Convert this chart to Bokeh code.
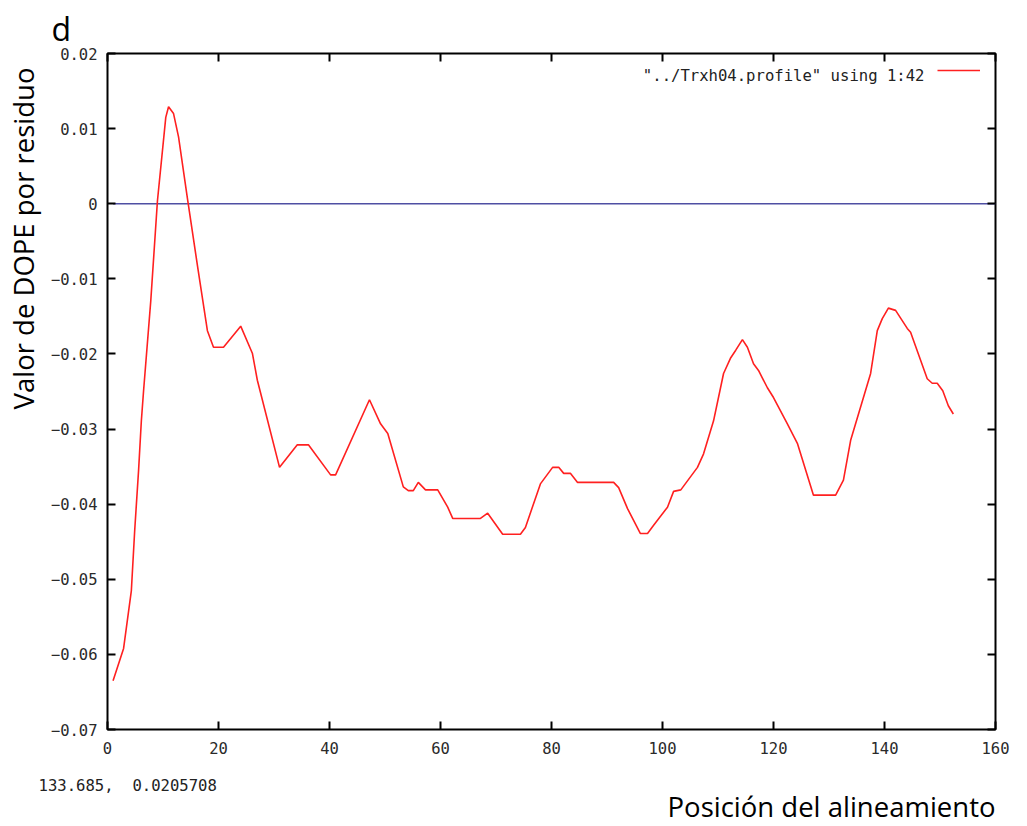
from bokeh.plotting import figure
from bokeh.models import (Range1d, LinearAxis, FixedTicker, CustomJSTickFormatter, Label,
                          Legend, LegendItem, Title)
from bokeh.embed import file_html
from bokeh.resources import INLINE

# ---- data ----
pos = [1.0, 2.9, 4.3, 4.9, 5.6, 6.1, 6.5, 7.8, 9.0, 10.5, 11.0, 11.9, 12.8, 14.4, 16.2,
       18.0, 19.1, 20.9, 24.0, 26.1, 27.0, 31.0, 34.2, 36.2, 40.2, 41.1, 47.2, 49.2, 50.5,
       53.3, 54.2, 55.1, 56.0, 57.3, 59.5, 61.3, 62.2, 67.2, 68.5, 71.2, 74.4, 75.3, 78.0,
       80.2, 81.3, 82.2, 83.4, 84.7, 91.2, 92.1, 93.7, 96.0, 97.3, 98.4, 100.9, 102.0, 103.3,
       106.3, 107.4, 109.2, 111.0, 112.3, 113.2, 114.4, 115.3, 116.4, 117.3, 118.9, 120.0,
       122.5, 124.3, 127.2, 131.2, 132.6, 133.9, 137.5, 138.7, 139.6, 140.7, 142.0, 144.1,
       144.7, 147.7, 148.6, 149.5, 150.5, 151.5, 152.4]
dope = [-0.0635, -0.0592, -0.0515, -0.0435, -0.0355, -0.0289, -0.0249, -0.0129, 0.0004,
        0.0115, 0.0129, 0.0120, 0.0089, 0.0007, -0.0082, -0.0169, -0.0191, -0.0191, -0.0163,
        -0.0199, -0.0235, -0.0351, -0.0321, -0.0321, -0.0361, -0.0361, -0.0261, -0.0293,
        -0.0306, -0.0377, -0.0382, -0.0382, -0.0371, -0.0381, -0.0381, -0.0404, -0.0419,
        -0.0419, -0.0412, -0.0440, -0.0440, -0.0431, -0.0373, -0.0351, -0.0351, -0.0359,
        -0.0359, -0.0371, -0.0371, -0.0378, -0.0406, -0.0439, -0.0439, -0.0428, -0.0404,
        -0.0383, -0.0381, -0.0351, -0.0333, -0.0289, -0.0226, -0.0205, -0.0195, -0.0181,
        -0.0191, -0.0213, -0.0222, -0.0245, -0.0258, -0.0293, -0.0319, -0.0388, -0.0388,
        -0.0368, -0.0315, -0.0226, -0.0169, -0.0153, -0.0139, -0.0142, -0.0166, -0.0171,
        -0.0233, -0.0239, -0.0239, -0.0249, -0.0269, -0.0280]
zero_x = [1, 160]
zero_y = [0.0, 0.0]
x_ticks = [0, 20, 40, 60, 80, 100, 120, 140, 160]
y_ticks = [-0.07, -0.06, -0.05, -0.04, -0.03, -0.02, -0.01, 0.0, 0.01, 0.02]
legend_text = '"../Trxh04.profile" using 1:42'
panel_label = "d"
x_title = "Posición del alineamiento"
y_title = "Valor de DOPE por residuo"
status_text = "133.685,\u00a0 0.0205708"

MONO = "DejaVu Sans Mono"
SANS = "Open Sans"

W, H = 1020, 826
p = figure(width=W, height=H, output_backend="svg", toolbar_location=None,
           x_range=Range1d(0, 160), y_range=Range1d(-0.07, 0.02),
           min_border_left=107, min_border_right=W - 995, min_border_top=53,
           min_border_bottom=H - 729,
           x_axis_location=None, y_axis_location=None)
p.background_fill_color = "white"
p.border_fill_color = "white"
p.outline_line_color = "black"
p.outline_line_width = 2
p.xgrid.visible = False
p.ygrid.visible = False

fmt = CustomJSTickFormatter(
    code="return String(Math.round(tick*100)/100).replace('-', '\u2212');")
blank = CustomJSTickFormatter(code="return '';")

for loc, show, stand, ticks in [("below", True, 12, x_ticks), ("above", False, 0, x_ticks),
                                ("left", True, 10, y_ticks), ("right", False, 0, y_ticks)]:
    ax = LinearAxis(formatter=fmt if show else blank, ticker=FixedTicker(ticks=ticks))
    ax.axis_line_color = None
    ax.major_tick_in = 8
    ax.major_tick_out = 0
    ax.major_tick_line_width = 2
    ax.major_tick_line_color = "black"
    ax.minor_tick_line_color = None
    ax.major_label_text_font = MONO
    ax.major_label_text_font_size = "15.5px"
    ax.major_label_text_color = "#2a2a2a"
    ax.major_label_standoff = stand
    p.add_layout(ax, loc)

p.line(zero_x, zero_y, line_color="#4f4fa3", line_width=1.5)
red = p.line(pos, dope, line_color="#ff2020", line_width=1.6)

leg = Legend(items=[LegendItem(label=" ", renderers=[red])], location=(830, 649),
             glyph_width=43, glyph_height=20, label_height=20, label_width=0,
             padding=0, margin=0, spacing=0, label_standoff=0,
             label_text_font_size="1px", border_line_alpha=0, background_fill_alpha=0)
p.add_layout(leg)

p.add_layout(Label(x=817, y=654, x_units="screen", y_units="screen", text=legend_text,
                   text_align="right", text_baseline="alphabetic", text_font=MONO,
                   text_font_size="15.6px", text_color="#222222"))

# texts outside the frame, as titles in the side panels
p.add_layout(Title(text=panel_label, align="left", offset=-56, standoff=8,
                   text_font=SANS, text_font_size="32px", text_font_style="normal",
                   text_color="black"), "above")
p.add_layout(Title(text=y_title, align="right", offset=14, standoff=7, vertical_align="top",
                   text_font=SANS, text_font_size="27.5px", text_font_style="normal",
                   text_color="black"), "left")
p.add_layout(Title(text=status_text, align="left", offset=-69, standoff=36,
                   text_font=MONO, text_font_size="15.6px", text_font_style="normal",
                   text_color="#222222"), "below")
p.add_layout(Title(text=x_title, align="right", offset=0, standoff=-50, vertical_align="top",
                   text_font=SANS, text_font_size="27.5px", text_font_style="normal",
                   text_color="black"), "below")

open("out.html", "w").write(file_html(p, INLINE))
